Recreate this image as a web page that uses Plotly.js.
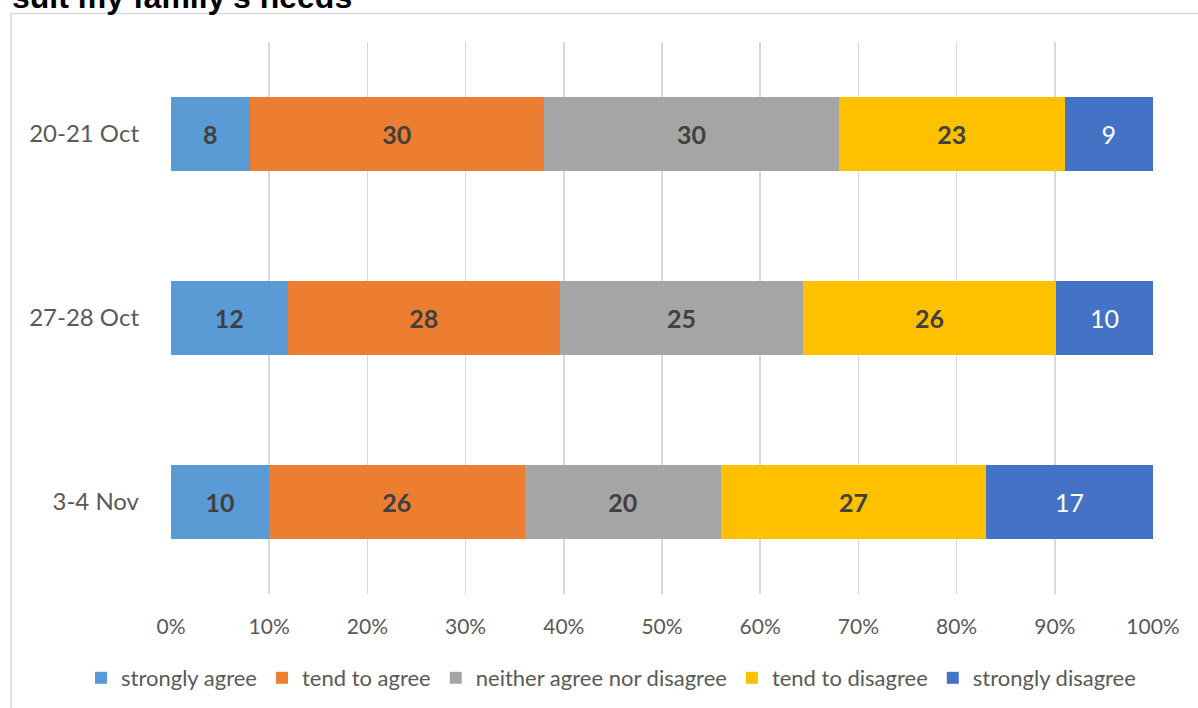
<!DOCTYPE html>
<html>
<head>
<meta charset="utf-8">
<script src="https://cdn.plot.ly/plotly-3.0.1.min.js"></script>
<style>
  html, body { margin: 0; padding: 0; background: #ffffff; }
  #chart { width: 1198px; height: 708px; }
</style>
</head>
<body>
<div id="chart"></div>
<script>
// ---- data ----
const periods = ["20-21 Oct", "27-28 Oct", "3-4 Nov"];
const seriesNames = ["strongly agree", "tend to agree", "neither agree nor disagree", "tend to disagree", "strongly disagree"];
const stronglyAgree = [8, 12, 10];
const tendToAgree = [30, 28, 26];
const neither = [30, 25, 20];
const tendToDisagree = [23, 26, 27];
const stronglyDisagree = [9, 10, 17];
const xTickValues = [0, 10, 20, 30, 40, 50, 60, 70, 80, 90, 100];
const xTickLabels = ["0%", "10%", "20%", "30%", "40%", "50%", "60%", "70%", "80%", "90%", "100%"];
const titleText = "suit my family's needs";

// ---- styles ----
const colors = ["#5B9BD5", "#ED7D31", "#A5A5A5", "#FFC000", "#4472C4"];
const seriesValues = [stronglyAgree, tendToAgree, neither, tendToDisagree, stronglyDisagree];
const FONT = "Lato, 'Open Sans', sans-serif";

const traces = seriesValues.map((vals, i) => ({
  type: "bar",
  orientation: "h",
  name: seriesNames[i],
  y: periods,
  x: vals,
  text: vals.map(String),
  texttemplate: "%{text}",
  textposition: "inside",
  insidetextanchor: "middle",
  textangle: 0,
  constraintext: "none",
  textfont: {
    family: FONT,
    size: 25,
    color: i === 4 ? "#FFFFFF" : "#404040",
    weight: i === 4 ? "normal" : "bold"
  },
  marker: { color: colors[i], line: { width: 0 } },
  hoverinfo: "skip"
}));

const L = 171, R = 1153, T = 42, B = 594;
const pw = R - L, ph = B - T;
const px = v => (v - L) / pw;
const py = v => (B - v) / ph;

const layout = {
  width: 1198,
  height: 708,
  margin: { l: L, r: 1198 - R, t: T, b: 708 - B, pad: 0, autoexpand: false },
  paper_bgcolor: "#ffffff",
  plot_bgcolor: "#ffffff",
  barmode: "stack",
  barnorm: "percent",
  bargap: 0.6,
  showlegend: true,
  legend: {
    orientation: "h",
    x: px(81),
    xanchor: "left",
    y: py(678),
    yanchor: "middle",
    font: { family: FONT, size: 22, color: "#595959" },
    traceorder: "normal",
    itemclick: false,
    itemwidth: 30,
    bgcolor: "rgba(0,0,0,0)"
  },
  xaxis: {
    range: [0, 100],
    tickvals: xTickValues,
    ticktext: xTickLabels,
    showgrid: true,
    gridcolor: "#D9D9D9",
    gridwidth: 1.5,
    zeroline: false,
    showline: false,
    ticks: "",
    ticklabelstandoff: 18,
    tickfont: { family: FONT, size: 21, color: "#595959" },
    fixedrange: true
  },
  yaxis: {
    type: "category",
    categoryorder: "array",
    categoryarray: periods.slice().reverse(),
    showgrid: false,
    zeroline: false,
    showline: false,
    ticks: "",
    ticklabelstandoff: 31,
    tickfont: { family: FONT, size: 24, color: "#595959" },
    fixedrange: true
  },
  shapes: [
    {
      type: "rect", xref: "paper", yref: "paper", layer: "below",
      x0: px(11), x1: px(1215), y0: py(730), y1: py(13.5),
      line: { color: "#D9D9D9", width: 1.5 },
      fillcolor: "rgba(0,0,0,0)"
    }
  ],
  annotations: [
    {
      text: "<b>" + titleText + "</b>",
      xref: "paper", yref: "paper",
      x: px(10), y: py(17),
      xanchor: "left", yanchor: "bottom",
      showarrow: false,
      font: { family: "'Liberation Sans', Arial, sans-serif", size: 32, color: "#000000" }
    }
  ]
};

Plotly.newPlot("chart", traces, layout, { staticPlot: true, displayModeBar: false });
</script>
</body>
</html>
